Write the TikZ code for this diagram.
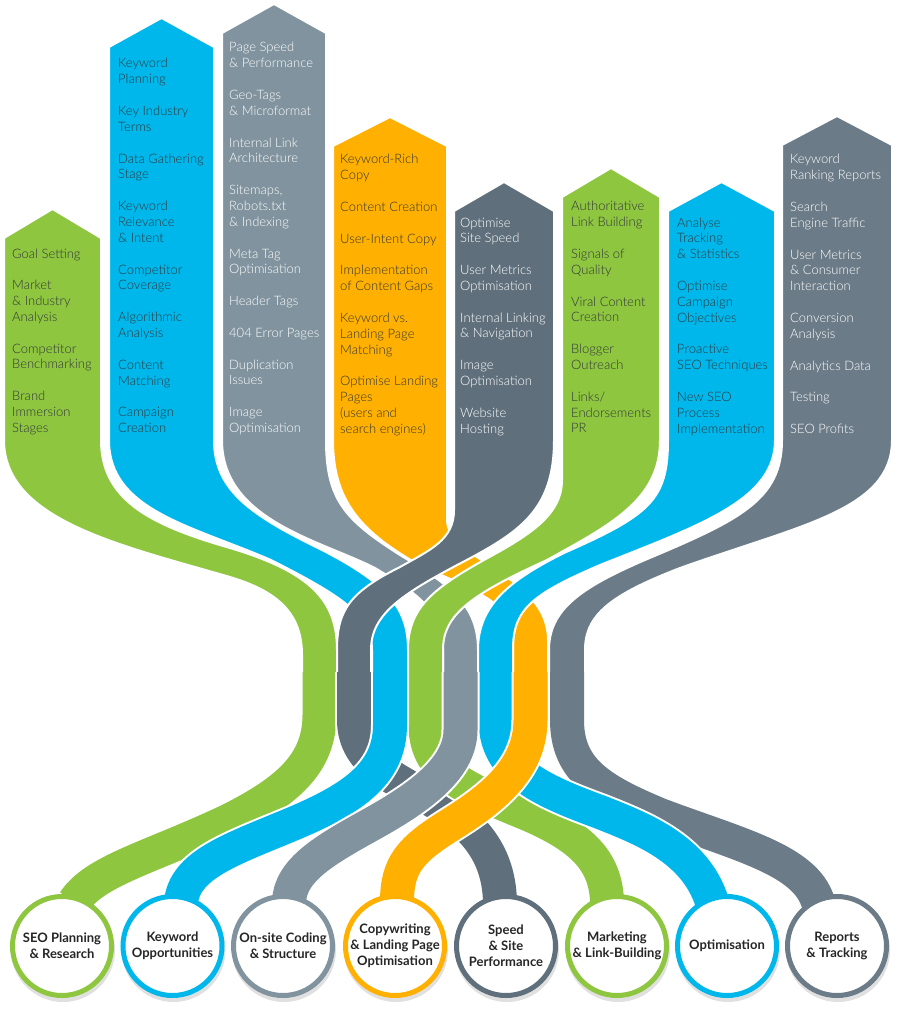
\documentclass[tikz,border=0pt]{standalone}
\usepackage{fontspec}
\setmainfont{Lato}
\newfontfamily\latolight{Lato Light}
\definecolor{cgreen}{RGB}{143,198,64}
\definecolor{cblue}{RGB}{0,183,235}
\definecolor{cslate}{RGB}{128,147,158}
\definecolor{corange}{RGB}{255,176,0}
\definecolor{cdark}{RGB}{95,112,124}
\definecolor{cgray}{RGB}{107,123,135}
\definecolor{ctext}{RGB}{50,55,58}
\begin{document}
\begin{tikzpicture}[x=1pt,y=-1pt,
  upper/.style={draw=white,line width=2pt,line join=round},
  lower/.style={line width=34pt,preaction={draw=white,line width=38pt}},
  ring/.style={circle,minimum size=99pt,line width=5pt,fill=white,inner sep=0pt},
  lbl/.style={inner sep=0pt,align=center,text=black!85,font=\bfseries\fontsize{13}{16}\selectfont},
  coltext/.style={anchor=base west,inner sep=0pt,font=\latolight\fontsize{13}{16}\selectfont},
  shadow/.style={fill=black,opacity=0.12}]
\useasboundingbox (0,0) rectangle (898,1011);

% ---------- upper parts: left-origin strands and the rightmost one ----------
\path[upper,fill=cgreen] (4,440) -- (4,238) -- (52.5,209) -- (101,238) -- (101,440)
  .. controls (101,500) and (150,525) .. (230,548) .. controls (310,572) and (337,600) .. (337,650)
  -- (337,700) -- (302,700) -- (302,655)
  .. controls (302,615) and (280,592) .. (230,577) .. controls (120,545) and (4,520) .. (4,440) -- cycle;
\path[upper,fill=cblue] (109,440) -- (109,47) -- (161.5,18) -- (214,47) -- (214,440)
  .. controls (214,490) and (250,515) .. (322,550) .. controls (390,585) and (408,610) .. (408,650)
  -- (408,700) -- (372,700) -- (372,650)
  .. controls (372,615) and (340,595) .. (271,560) .. controls (190,525) and (109,510) .. (109,440) -- cycle;
\path[upper,fill=cslate] (222,440) -- (222,33) -- (274,4) -- (326,33) -- (326,440)
  .. controls (326,500) and (345,520) .. (400,555) .. controls (450,585) and (478,605) .. (478,650)
  -- (478,700) -- (443,700) -- (443,650)
  .. controls (443,610) and (415,592) .. (375,568) .. controls (320,540) and (222,520) .. (222,440) -- cycle;
\path[upper,fill=corange] (333,440) -- (333,146) -- (390,117) -- (447,146) -- (447,520)
  .. controls (447,560) and (548,575) .. (548,640)
  -- (548,700) -- (513,700) -- (513,640)
  .. controls (513,600) and (470,590) .. (414,562) .. controls (360,530) and (333,500) .. (333,440) -- cycle;
\path[upper,fill=cgray] (782,440) -- (782,145) -- (837,116) -- (892,145) -- (892,440)
  .. controls (892,510) and (800,525) .. (680,568) .. controls (610,595) and (585,615) .. (585,650)
  -- (585,700) -- (549,700) -- (549,650)
  .. controls (549,610) and (580,588) .. (645,560) .. controls (740,520) and (782,500) .. (782,440) -- cycle;
% ---------- upper parts: right-origin strands (on top) ----------
\path[upper,fill=cdark] (454,510) -- (454,211) -- (504,182) -- (554,211) -- (554,440)
  .. controls (554,510) and (520,532) .. (461,563) .. controls (400,595) and (371,615) .. (371,650)
  -- (371,700) -- (337,700) -- (337,650)
  .. controls (337,610) and (350,592) .. (400,567) .. controls (430,550) and (454,540) .. (454,510) -- cycle;
\path[upper,fill=cgreen] (562,480) -- (562,197) -- (611,168) -- (660,197) -- (660,440)
  .. controls (660,500) and (610,525) .. (547,560) .. controls (470,595) and (443,615) .. (443,650)
  -- (443,700) -- (408,700) -- (408,650)
  .. controls (408,610) and (430,590) .. (484,560) .. controls (530,535) and (562,515) .. (562,480) -- cycle;
\path[upper,fill=cblue] (668,440) -- (668,211) -- (721.5,182) -- (775,211) -- (775,440)
  .. controls (775,500) and (700,525) .. (600,565) .. controls (530,595) and (513,610) .. (513,650)
  -- (513,700) -- (478,700) -- (478,650)
  .. controls (478,605) and (510,580) .. (564,553) .. controls (650,515) and (668,500) .. (668,440) -- cycle;

% ---------- lower parts ----------
\draw[lower,cgreen] (319.5,672) -- (319.5,715) .. controls (319.5,765) and (285,792) .. (230,820) .. controls (150,858) and (95,870) .. (74,902);
\draw[lower,cgray] (567,672) -- (567,720) .. controls (567,770) and (600,790) .. (660,815) .. controls (740,845) and (805,860) .. (818,902);
\draw[lower,cdark] (354,672) -- (354,720) .. controls (354,765) and (400,780) .. (440,805) .. controls (480,830) and (499,860) .. (500,902);
\draw[lower,cgreen] (425.5,672) -- (425.5,725) .. controls (425.5,775) and (470,790) .. (530,815) .. controls (580,837) and (606,860) .. (607,902);
\draw[lower,cblue] (495.5,672) -- (495.5,720) .. controls (495.5,770) and (540,790) .. (600,812) .. controls (640,828) and (695,848) .. (712,902);
\draw[lower,cblue] (390,672) -- (390,725) .. controls (390,775) and (350,800) .. (290,825) .. controls (230,850) and (185,865) .. (181,902);
\draw[lower,cslate] (460.5,672) -- (460.5,730) .. controls (460.5,770) and (415,800) .. (370,825) .. controls (325,850) and (290,870) .. (289,902);
\draw[lower,corange] (530.5,672) -- (530.5,720) .. controls (530.5,770) and (490,800) .. (450,825) .. controls (410,850) and (397,865) .. (397,902);

% ---------- circles ----------
\foreach \cx/\cc [count=\k] in {62/cgreen,172.5/cblue,283/cslate,395/corange,506/cdark,617/cgreen,727/cblue,837/cgray}{
  \fill[shadow] (\cx+1,950) circle[radius=52pt];
  \node[ring,draw=\cc] (c\k) at (\cx,946) {};
}
\node[lbl] (l1) at (c1) {SEO Planning\\\& Research};
\node[lbl] (l2) at (c2) {Keyword\\Opportunities};
\node[lbl] (l3) at (c3) {On-site Coding\\\& Structure};
\node[lbl] (l4) at (c4) {Copywriting\\\& Landing Page\\Optimisation};
\node[lbl] (l5) at (c5) {Speed\\\& Site\\Performance};
\node[lbl] (l6) at (c6) {Marketing\\\& Link-Building};
\node[lbl] (l7) at (c7) {Optimisation};
\node[lbl] (l8) at (c8) {Reports\\\& Tracking};

% ---------- column texts ----------
\foreach \txt [count=\i] in {{Goal Setting},{},{Market},{\& Industry},{Analysis},{},{Competitor},{Benchmarking},{},{Brand},{Immersion},{Stages}}
  \node[coltext,text=ctext] (a\i) at (12,{258+15.85*(\i-1)}) {\txt};
\foreach \txt [count=\i] in {{Keyword},{Planning},{},{Key Industry},{Terms},{},{Data Gathering},{Stage},{},{Keyword},{Relevance},{\& Intent},{},{Competitor},{Coverage},{},{Algorithmic},{Analysis},{},{Content},{Matching},{},{Campaign},{Creation}}
  \node[coltext,text=ctext] (b\i) at (118,{68+15.85*(\i-1)}) {\txt};
\foreach \txt [count=\i] in {{Page Speed},{\& Performance},{},{Geo-Tags},{\& Microformat},{},{Internal Link},{Architecture},{},{Sitemaps,},{Robots.txt},{\& Indexing},{},{Meta Tag},{Optimisation},{},{Header Tags},{},{404 Error Pages},{},{Duplication},{Issues},{},{Image},{Optimisation}}
  \node[coltext,text=white] (d\i) at (229,{52+15.85*(\i-1)}) {\txt};
\foreach \txt [count=\i] in {{Keyword-Rich},{Copy},{},{Content Creation},{},{User-Intent Copy},{},{Implementation},{of Content Gaps},{},{Keyword vs.},{Landing Page},{Matching},{},{Optimise Landing},{Pages},{(users and},{search engines)}}
  \node[coltext,text=ctext] (e\i) at (340,{164+15.85*(\i-1)}) {\txt};
\foreach \txt [count=\i] in {{Optimise},{Site Speed},{},{User Metrics},{Optimisation},{},{Internal Linking},{\& Navigation},{},{Image},{Optimisation},{},{Website},{Hosting}}
  \node[coltext,text=white] (f\i) at (460,{227+15.85*(\i-1)}) {\txt};
\foreach \txt [count=\i] in {{Authoritative},{Link Building},{},{Signals of},{Quality},{},{Viral Content},{Creation},{},{Blogger},{Outreach},{},{Links/},{Endorsements},{PR}}
  \node[coltext,text=ctext] (g\i) at (571,{211+15.85*(\i-1)}) {\txt};
\foreach \txt [count=\i] in {{Analyse},{Tracking},{\& Statistics},{},{Optimise},{Campaign},{Objectives},{},{Proactive},{SEO Techniques},{},{New SEO},{Process},{Implementation}}
  \node[coltext,text=ctext] (h\i) at (677,{227+15.85*(\i-1)}) {\txt};
\foreach \txt [count=\i] in {{Keyword},{Ranking Reports},{},{Search},{Engine Traffic},{},{User Metrics},{\& Consumer},{Interaction},{},{Conversion},{Analysis},{},{Analytics Data},{},{Testing},{},{SEO Profits}}
  \node[coltext,text=white] (m\i) at (790,{164+15.85*(\i-1)}) {\txt};
\end{tikzpicture}
\end{document}
